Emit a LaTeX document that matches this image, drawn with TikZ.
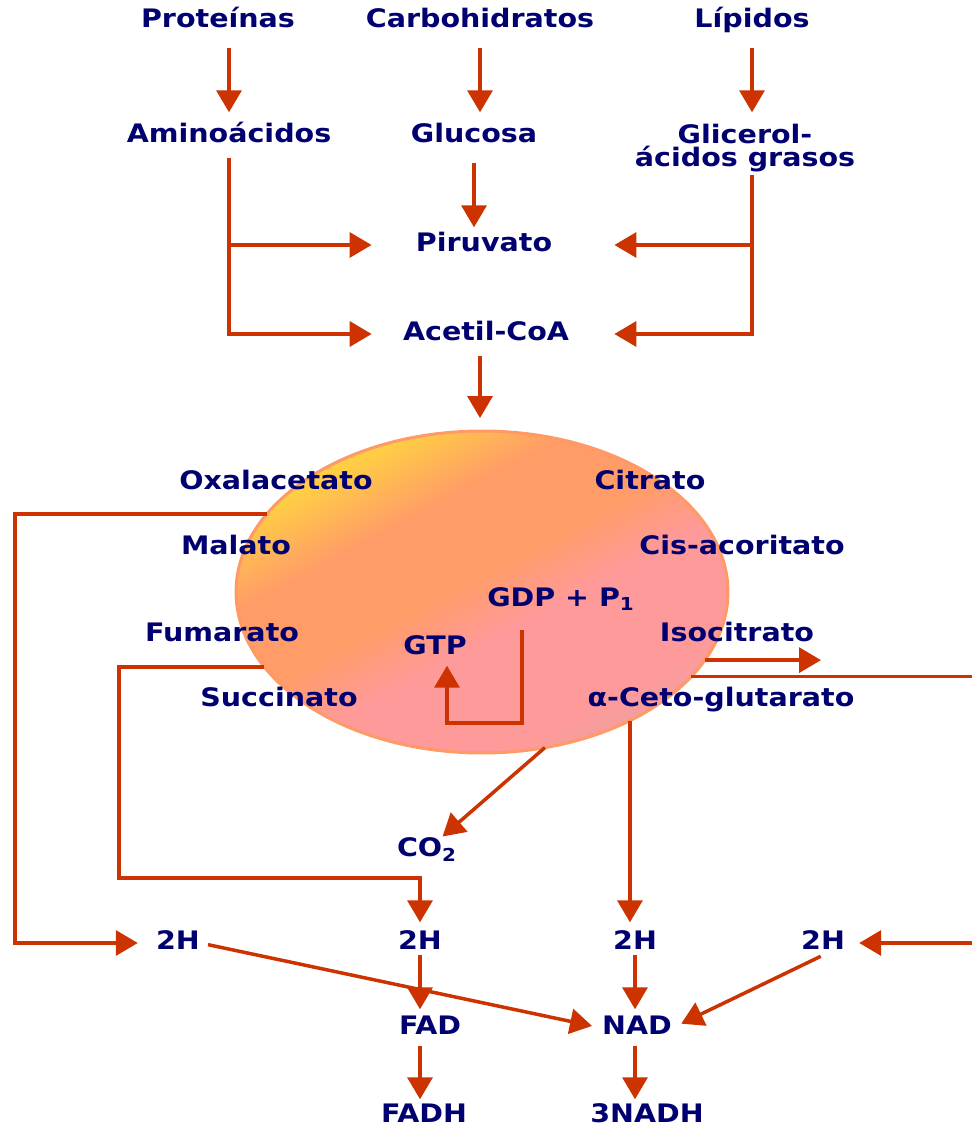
\documentclass[tikz,border=0pt]{standalone}
\usepackage{fontspec}
\usepackage{tikz}
\usetikzlibrary{shapes}
\usetikzlibrary{arrows.meta}
\usetikzlibrary{positioning}
\newfontfamily\diagfont{DejaVu Sans}[FakeStretch=1.12]
\definecolor{azul}{RGB}{0,0,112}
\definecolor{flecha}{RGB}{204,51,0}
\definecolor{amarillo}{RGB}{255,206,68}
\definecolor{naranja}{RGB}{255,156,104}
\definecolor{rosa}{RGB}{255,154,154}
\definecolor{gris}{RGB}{232,162,160}
\definecolor{borde}{RGB}{255,153,102}
\pgfdeclareverticalshading{esfsh}{100bp}{color(0bp)=(gris); color(22bp)=(gris); 
	color(30bp)=(rosa); color(44bp)=(rosa); color(52bp)=(naranja); color(63bp)=(naranja); 
	color(73bp)=(amarillo); color(100bp)=(amarillo)}

\begin{document}
\begin{tikzpicture}[x=0.02cm, y=-0.02cm]
	\tikzset{txtb/.style = {text=azul, font=\diagfont\bfseries\fontsize{14.5}{13}\selectfont, inner sep=0pt}}
	\tikzset{txt/.style = {txtb, text height=10.5pt, text depth=3pt}}
	\tikzset{edge/.style = {-{Triangle[length=0.44cm,width=0.5cm]}, draw=flecha, line width=0.07cm, 
			shorten >=0.15cm, shorten <=0.2cm}}
	\tikzset{esfera/.style = {ellipse, minimum width=9.84cm, minimum height=6.44cm, inner sep=0pt, 
			outer sep=0pt, draw=borde, line width=0.06cm, shading=esfsh, shading angle=28}}
	
	\useasboundingbox (0,0) rectangle (972,1128);
	\fill[white] (0,0) rectangle (972,1128);
	
	% vertices
	\node[txt] (prot) at (218,21) {Proteínas};
	\node[txt] (carb) at (480,21) {Carbohidratos};
	\node[txt] (lip) at (752,21) {Lípidos};
	\node[txt] (amino) at (229,136) {Aminoácidos};
	\node[txt] (gluc) at (474,136) {Glucosa};
	\node[txtb, align=center] (glic) at (745,148) {Glicerol-\\ácidos grasos};
	\node[txt] (piru) at (484,245) {Piruvato};
	\node[txt] (acetil) at (486,334) {Acetil-CoA};
	
	\node[esfera] (ciclo) at (482,592) {};
	\node[txt] (oxal) at (276,483) {Oxalacetato};
	\node[txt] (citr) at (650,483) {Citrato};
	\node[txt] (mala) at (236,548) {Malato};
	\node[txt] (cis) at (742,548) {Cis-acoritato};
	\node[txt] (gdp) at (561,600) {GDP + P\textsubscript{1}};
	\node[txt] (fuma) at (222,635) {Fumarato};
	\node[txt] (iso) at (737,635) {Isocitrato};
	\node[txt] (gtp) at (435,648) {GTP};
	\node[txt] (succ) at (279,700) {Succinato};
	\node[txt] (ceto) at (721,700) {α-Ceto-glutarato};
	\node[txt] (co2) at (427,850) {CO\textsubscript{2}};
	
	\node[txt] (h1) at (178,943) {2H};
	\node[txt] (h2) at (420,943) {2H};
	\node[txt] (h3) at (635,943) {2H};
	\node[txt] (h4) at (823,943) {2H};
	\node[txt] (fad) at (430,1028) {FAD};
	\node[txt] (nad) at (637,1028) {NAD};
	\node[txt] (fadh) at (424,1116) {FADH};
	\node[txt] (nadh) at (647,1116) {3NADH};
	
	\coordinate (izq) at (15,0);
	\coordinate (izq2) at (119,878);
	\coordinate (der) at (990,0);
	\coordinate (isofin) at (821,0);
	
	%edges
	\draw[edge, shorten <=0.3cm, shorten >=0.23cm] (prot.south -| amino) -- (amino.north);
	\draw[edge, shorten <=0.3cm, shorten >=0.23cm] (carb.south) -- (carb.south |- gluc.north);
	\draw[edge, shorten <=0.3cm, shorten >=0.23cm] (lip.south) -- (lip.south |- amino.north);
	
	\draw[edge, shorten >=0.88cm] (amino.south) |- (piru.west);
	\draw[edge, shorten >=0.62cm] (amino.south) |- (acetil.west);
	\draw[edge, shorten <=0.06cm, shorten >=1.24cm] (glic.south -| lip) |- (piru.east);
	\draw[edge, shorten <=0.06cm, shorten >=0.9cm] (glic.south -| lip) |- (acetil.east);
	\draw[edge, shorten <=0.29cm, shorten >=0.11cm] (gluc.south) -- (gluc.south |- piru.north);
	\draw[edge, shorten <=0.19cm, shorten >=0.26cm] (acetil.south -| carb) -- (carb |- ciclo.north);
	
	\draw[edge, shorten <=0pt, shorten >=0.36cm] (ciclo.160.4) -| (izq |- h1) -- (h1);
	\draw[edge, shorten <=0pt, shorten >=0.17cm] (ciclo.199.1) -| (izq2) -| (h2);
	\draw[edge, shorten <=0pt, shorten >=0pt] (ciclo.343.6) -- (ciclo.343.6 -| isofin);
	\draw[edge, shorten <=0pt, shorten >=0.28cm] (ciclo.338.2) -| (der |- h4) -- (h4);
	\draw[edge, shorten <=0.35cm, shorten >=0.11cm] ([xshift=-0.78cm]gdp.south) -- ++(0,111) 
		-| ([xshift=0.24cm]gtp.south);
	\draw[edge, shorten <=0pt, shorten >=0.04cm] (ciclo.292.4) -- (co2);
	\draw[edge, shorten <=0pt, shorten >=0.17cm] (ciclo.319.5) -- (ciclo.319.5 |- h3.north);
	
	\draw[edge, shorten <=0pt, shorten >=0.13cm] (h2.south) -- (h2.south |- fad.north);
	\draw[edge, shorten <=0pt, shorten >=0.13cm] (h3.south) -- (h3.south |- nad.north);
	\draw[edge, shorten <=0.16cm, shorten >=0.2cm] (h1.east) -- (nad.west);
	\draw[edge, shorten <=0.05cm, shorten >=0.2cm] (h4.south) -- (nad.east);
	\draw[edge, shorten <=0.11cm, shorten >=0.09cm] (fad.south -| h2) -- (fadh.north -| h2);
	\draw[edge, shorten <=0.11cm, shorten >=0.09cm] (nad.south -| h3) -- (nadh.north -| h3);
\end{tikzpicture}
\end{document}
